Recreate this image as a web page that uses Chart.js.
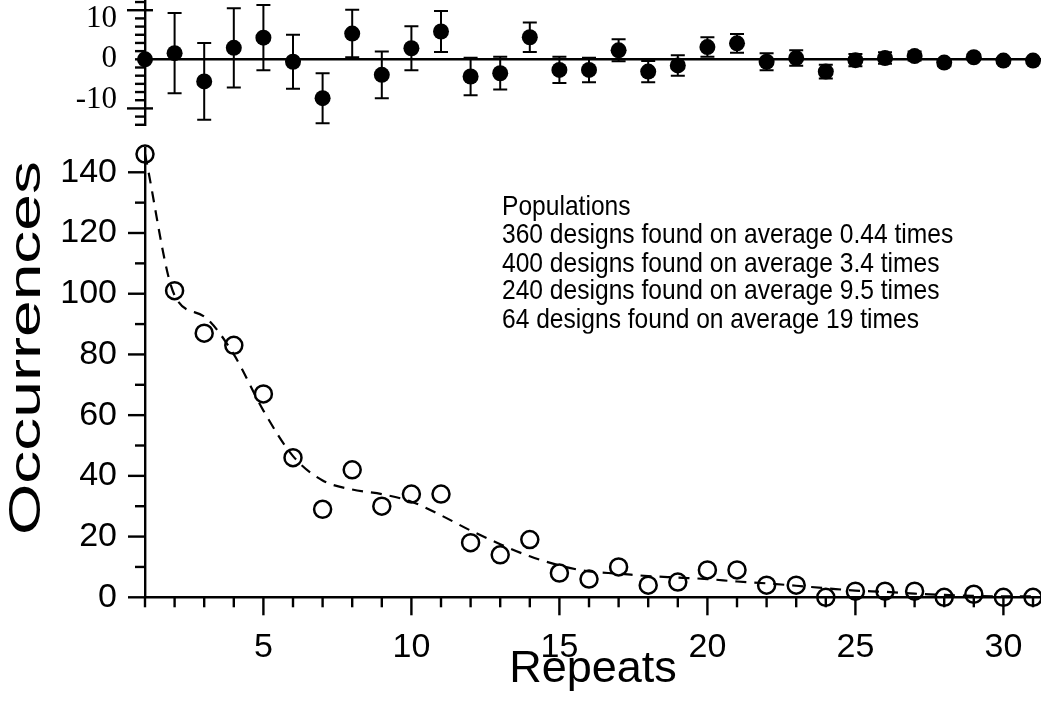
<!DOCTYPE html>
<html>
<head>
<meta charset="utf-8">
<script src="https://cdn.jsdelivr.net/npm/chart.js@4.4.1/dist/chart.umd.min.js"></script>
<style>
  html, body { margin: 0; padding: 0; background: #fff; }
  #wrap { position: relative; width: 1041px; height: 706px; overflow: hidden; }
  #top-box { position: absolute; left: 0; top: 0; }
  #main-box { position: absolute; left: 0; top: 130px; }
  #legend {
    position: absolute; left: 502px; top: 192px;
    font-family: "Liberation Sans", Arial, sans-serif; font-size: 24.6px; line-height: 24.8px;
    color: #000; white-space: nowrap;
    transform: scaleY(1.14); transform-origin: top left;
  }
</style>
</head>
<body>
<div id="wrap">
  <div id="top-box"><canvas id="resid" width="1041" height="126"></canvas></div>
  <div id="main-box"><canvas id="occ" width="1041" height="576"></canvas></div>
  <div id="legend"></div>
</div>
<script>
// datos
const repeats = [1, 2, 3, 4, 5, 6, 7, 8, 9, 10, 11, 12, 13, 14, 15, 16, 17, 18, 19, 20, 21, 22, 23, 24, 25, 26, 27, 28, 29, 30, 31];
const occurrences = [146, 101, 87, 83, 67, 46, 29, 42, 30, 34, 34, 18, 14, 19, 8, 6, 10, 4, 5, 9, 9, 4, 4, 0, 2, 2, 2, 0, 1, 0, 0];
const fitted = [146, 99.5, 92.5, 80, 61.5, 46.5, 38.5, 35.5, 34, 31.5, 27, 22, 17.5, 13.5, 10.5, 8.5, 7.8, 7, 6.5, 6, 5.2, 4.6, 3.8, 3, 2.2, 1.8, 1.2, 0.8, 0.5, 0.3, 0.3];
const residuals = [0, 1.5, -5.4, 2.8, 5.3, -0.6, -9.5, 6.3, -3.8, 2.7, 6.8, -4.2, -3.4, 5.4, -2.6, -2.6, 2.2, -3.0, -1.5, 3.0, 3.9, -0.6, 0.3, -3.0, -0.2, 0.3, 0.8, -0.8, 0.5, -0.3, -0.3];
const residErrors = [0, 9.8, 9.4, 9.7, 8.0, 6.6, 6.1, 5.8, 5.7, 5.4, 5.0, 4.6, 4.0, 3.6, 3.2, 3.0, 2.7, 2.6, 2.5, 2.4, 2.3, 2.1, 1.9, 1.7, 1.5, 1.4, 1.1, 0.9, 0.7, 0.6, 0.5];

// ticks
const xLabelTicks = [5, 10, 15, 20, 25, 30];
const xMinorTicks = [1, 2, 3, 4, 6, 7, 8, 9, 11, 12, 13, 14, 16, 17, 18, 19, 21, 22, 23, 24, 26, 27, 28, 29, 31];
const yLabelTicks = [0, 20, 40, 60, 80, 100, 120, 140];
const yMinorTicks = [10, 30, 50, 70, 90, 110, 130];
const residLabelTicks = [-10, 0, 10];
const residMinorTicks = [-16, -14, -10, -8, -6, -4, -2, 0, 2, 4, 6, 8, 10, 14];
const residMajorTicks = [-12, 12];

const xTitle = 'Repeats';
const yTitleText = 'Occurrences';
const legendLines = [
  'Populations',
  '360 designs found on average 0.44 times',
  '400 designs found on average 3.4 times',
  '240 designs found on average 9.5 times',
  '64 designs found on average 19 times'
];

document.getElementById('legend').innerHTML = legendLines.map(t => '<div>' + t + '</div>').join('');

const SANS = '"Liberation Sans", Arial, sans-serif';
const SERIF = '"Liberation Serif", "Times New Roman", serif';

// quitar el relleno automatico que Chart.js deja para las etiquetas
function noPad(ax) {
  ax.paddingTop = 0; ax.paddingBottom = 0;
  ax.paddingLeft = 0; ax.paddingRight = 0;
}

// marcas de los ejes (largo distinto para mayores y menores)
function makeTickPlugin(marks) {
  return {
    id: 'tickMarks',
    afterDraw(chart) {
      const ctx = chart.ctx;
      const area = chart.chartArea;
      ctx.save();
      ctx.strokeStyle = '#000';
      ctx.lineWidth = 2.4;
      marks.forEach(m => {
        const scale = chart.scales[m.axis];
        m.values.forEach(v => {
          const p = scale.getPixelForValue(v);
          ctx.beginPath();
          if (m.axis === 'x') {
            ctx.moveTo(p, area.bottom - (m.inner || 0));
            ctx.lineTo(p, area.bottom + m.len);
          } else {
            ctx.moveTo(area.left - m.len, p);
            ctx.lineTo(area.left + (m.inner || 0), p);
          }
          ctx.stroke();
        });
      });
      ctx.restore();
    }
  };
}

// barras de error del panel de residuos
const errorBars = {
  id: 'errorBars',
  beforeDatasetsDraw(chart) {
    const { ctx, scales: { x, y } } = chart;
    ctx.save();
    ctx.strokeStyle = '#000';
    ctx.lineWidth = 2;
    repeats.forEach((r, i) => {
      const e = residErrors[i];
      if (!e) return;
      const px = x.getPixelForValue(r);
      const top = y.getPixelForValue(residuals[i] + e);
      const bot = y.getPixelForValue(residuals[i] - e);
      ctx.beginPath();
      ctx.moveTo(px, top); ctx.lineTo(px, bot);
      ctx.moveTo(px - 7, top); ctx.lineTo(px + 7, top);
      ctx.moveTo(px - 7, bot); ctx.lineTo(px + 7, bot);
      ctx.stroke();
    });
    ctx.restore();
  }
};

// titulo del eje Y (estirado como en el original)
const yTitle = {
  id: 'yTitle',
  afterDraw(chart) {
    const ctx = chart.ctx;
    ctx.save();
    ctx.translate(28, 218);
    ctx.rotate(-Math.PI / 2);
    ctx.scale(1.5, 1);
    ctx.font = '44px ' + SANS;
    ctx.textAlign = 'center';
    ctx.textBaseline = 'middle';
    ctx.fillStyle = '#000';
    ctx.fillText(yTitleText, 0, 0);
    ctx.restore();
  }
};

// Panel superior: residuos
new Chart(document.getElementById('resid').getContext('2d'), {
  type: 'scatter',
  data: {
    datasets: [{
      data: repeats.map((r, i) => ({ x: r, y: residuals[i] })),
      pointStyle: 'circle',
      pointRadius: 8,
      backgroundColor: '#000',
      borderColor: '#000',
      borderWidth: 0,
      clip: false
    }]
  },
  options: {
    responsive: false,
    animation: false,
    layout: { padding: 0, autoPadding: false },
    plugins: { legend: { display: false }, tooltip: { enabled: false } },
    scales: {
      x: { type: 'linear', min: 1, max: 31.27, display: false },
      y: {
        min: -16.3, max: 14.5,
        afterBuildTicks: ax => { ax.ticks = residLabelTicks.map(v => ({ value: v })); },
        afterFit: ax => { ax.width = 145; noPad(ax); },
        grid: {
          drawTicks: false,
          color: c => (c.tick && c.tick.value === 0) ? '#000' : 'rgba(0,0,0,0)',
          lineWidth: 2.4
        },
        border: { display: true, color: '#000', width: 2.4 },
        ticks: { color: '#000', padding: 28, font: { family: SERIF, size: 31 } }
      }
    }
  },
  plugins: [errorBars, makeTickPlugin([
    { axis: 'y', values: residMinorTicks, len: 10 },
    { axis: 'y', values: residMajorTicks, len: 18, inner: 8 }
  ])]
});

// Panel principal
new Chart(document.getElementById('occ').getContext('2d'), {
  type: 'scatter',
  data: {
    datasets: [{
      label: 'Fit',
      data: repeats.map((r, i) => ({ x: r, y: fitted[i] })),
      showLine: true,
      borderColor: '#000',
      borderWidth: 2.2,
      borderDash: [11, 8],
      cubicInterpolationMode: 'monotone',
      pointRadius: 0,
      clip: false
    }, {
      label: 'Occurrences',
      data: repeats.map((r, i) => ({ x: r, y: occurrences[i] })),
      pointStyle: 'circle',
      pointRadius: 8.5,
      borderWidth: 2.5,
      borderColor: '#000',
      backgroundColor: 'rgba(0,0,0,0)',
      clip: false
    }]
  },
  options: {
    responsive: false,
    animation: false,
    layout: { padding: { top: 18, right: 0, left: 0, bottom: 0 }, autoPadding: false },
    plugins: { legend: { display: false }, tooltip: { enabled: false } },
    scales: {
      x: {
        type: 'linear', min: 1, max: 31.27,
        afterBuildTicks: ax => { ax.ticks = xLabelTicks.map(v => ({ value: v })); },
        afterFit: ax => { ax.height = 108.7; noPad(ax); },
        grid: { display: false },
        border: { display: true, color: '#000', width: 2.4 },
        ticks: { color: '#000', padding: 22, maxRotation: 0, autoSkip: false, font: { family: SANS, size: 34 } },
        title: { display: true, text: xTitle, color: '#000', padding: { top: 0, bottom: 9 }, font: { family: SANS, size: 45 } }
      },
      y: {
        min: 0, max: 148,
        afterBuildTicks: ax => { ax.ticks = yLabelTicks.map(v => ({ value: v })); },
        afterFit: ax => { ax.width = 145; noPad(ax); },
        grid: { display: false },
        border: { display: true, color: '#000', width: 2.4 },
        ticks: { color: '#000', padding: 20, font: { family: SANS, size: 34 } }
      }
    }
  },
  plugins: [yTitle, makeTickPlugin([
    { axis: 'x', values: xMinorTicks, len: 10 },
    { axis: 'x', values: xLabelTicks, len: 18 },
    { axis: 'y', values: yMinorTicks, len: 10 },
    { axis: 'y', values: yLabelTicks, len: 17 }
  ])]
});
</script>
</body>
</html>
